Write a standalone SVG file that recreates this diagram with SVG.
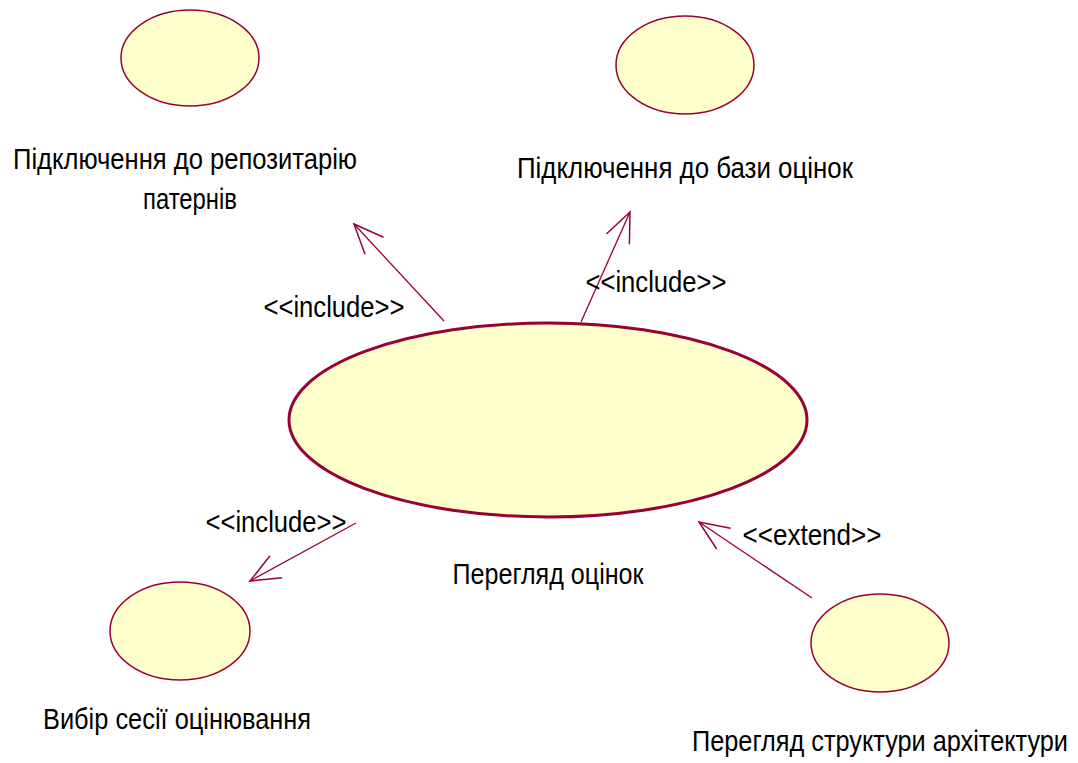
<svg xmlns="http://www.w3.org/2000/svg" width="1078" height="763" viewBox="0 0 1078 763">
<defs>
<style>
.uc{fill:#FFFFCC;stroke:#990033;stroke-width:1.5}
.main{fill:#FFFFCC;stroke:#990033;stroke-width:3}
text{font-family:"Liberation Sans",Arial,sans-serif;font-size:29px;fill:#000;text-anchor:middle}
.c{stroke:#990033;stroke-width:1.3;fill:none;marker-end:url(#open)}
</style>
<marker id="open" markerUnits="userSpaceOnUse" markerWidth="40" markerHeight="40" viewBox="-30 -15 35 30" refX="0" refY="0" orient="auto">
<path d="M-26,-11 L0,0 L-26,11" fill="none" stroke="#990033" stroke-width="1.3"/>
</marker>
</defs>
<rect width="1078" height="763" fill="#fff"/>
<g id="connectors">
<line class="c" x1="444" y1="321" x2="354" y2="224"/>
<line class="c" x1="581" y1="322" x2="630" y2="212"/>
<line class="c" x1="356" y1="523" x2="250" y2="581"/>
<line class="c" x1="812" y1="598" x2="699" y2="522"/>
<text x="334" y="317" textLength="141" lengthAdjust="spacingAndGlyphs">&lt;&lt;include&gt;&gt;</text>
<text x="656" y="292" textLength="141" lengthAdjust="spacingAndGlyphs">&lt;&lt;include&gt;&gt;</text>
<text x="276" y="532" textLength="141" lengthAdjust="spacingAndGlyphs">&lt;&lt;include&gt;&gt;</text>
<text x="812" y="545" textLength="139" lengthAdjust="spacingAndGlyphs">&lt;&lt;extend&gt;&gt;</text>
</g>
<g id="node-main">
<ellipse class="main" cx="548" cy="420" rx="259" ry="97"/>
<text x="548" y="584" textLength="191" lengthAdjust="spacingAndGlyphs">Перегляд оцінок</text>
</g>
<g id="node-repo">
<ellipse class="uc" cx="190" cy="58" rx="69" ry="48"/>
<text x="185" y="169" textLength="344" lengthAdjust="spacingAndGlyphs">Підключення до репозитарію</text>
<text x="190" y="209" textLength="94" lengthAdjust="spacingAndGlyphs">патернів</text>
</g>
<g id="node-db">
<ellipse class="uc" cx="685" cy="65" rx="69" ry="49"/>
<text x="685" y="178" textLength="336" lengthAdjust="spacingAndGlyphs">Підключення до бази оцінок</text>
</g>
<g id="node-session">
<ellipse class="uc" cx="180" cy="631" rx="70" ry="49"/>
<text x="177" y="729" textLength="268" lengthAdjust="spacingAndGlyphs">Вибір сесії оцінювання</text>
</g>
<g id="node-arch">
<ellipse class="uc" cx="880" cy="643" rx="69" ry="49"/>
<text x="880" y="751" textLength="376" lengthAdjust="spacingAndGlyphs">Перегляд структури архітектури</text>
</g>
</svg>
